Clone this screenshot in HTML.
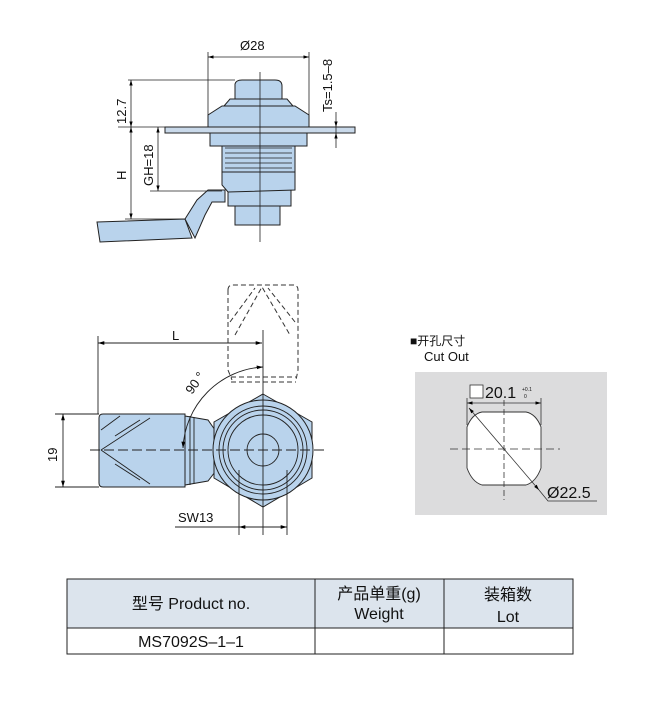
<!DOCTYPE html>
<html><head><meta charset="utf-8"><style>
body{margin:0;background:#fff;width:650px;height:709px;overflow:hidden;font-family:"Liberation Sans","Noto Sans CJK SC",sans-serif}
</style></head><body>
<svg width="650" height="709" viewBox="0 0 650 709" xmlns="http://www.w3.org/2000/svg" font-family="Liberation Sans, Noto Sans CJK SC, sans-serif">
<defs>
<marker id="a" viewBox="0 0 10 10" refX="10" refY="5" markerWidth="7" markerHeight="7" orient="auto-start-reverse"><path d="M0,2L10,5L0,8z" fill="#000"/></marker>
</defs>
<g stroke="#222" stroke-width="1" fill="#b9d3ec">
<!-- top view -->
<path d="M97,222 L185,219 L192,238 L100,242 Z"/>
<path d="M185,219 L197,200 L208,190 L225,190 L225,202 L212,202 L205,215 L195,238 Z"/>
<rect x="235" y="205" width="45" height="20"/>
<rect x="228" y="190" width="63" height="16"/>
<path d="M222,172 L295,172 L295,190 L228,192 L222,185 Z"/>
<rect x="222" y="145" width="73" height="27"/>
<path d="M225,148H292M225,153H292M225,158H292M225,163H292M225,168H292" fill="none" stroke-width="0.8"/>
<rect x="210" y="133" width="97" height="13"/>
<rect x="165" y="127" width="190" height="6" fill="#c9d9ea"/>
<path d="M208,127 L208,115 L222,106 L295,106 L309,115 L309,127 Z"/>
<path d="M224,106 L230,99 L287,99 L293,106 Z"/>
<path d="M235,99 L235,84 Q236,80 242,80 L275,80 Q282,80 282,86 L282,99 Z"/>
</g>
<g stroke="#222" stroke-width="0.8" fill="none">
<line x1="260" y1="72" x2="260" y2="242"/>
<line x1="208" y1="52" x2="208" y2="127"/><line x1="309" y1="52" x2="309" y2="127"/>
<line x1="208" y1="57" x2="309" y2="57" marker-start="url(#a)" marker-end="url(#a)"/>
<line x1="128" y1="80" x2="235" y2="80"/><line x1="118" y1="127" x2="165" y2="127"/>
<line x1="150" y1="191" x2="222" y2="191"/><line x1="125" y1="219" x2="185" y2="219"/>
<line x1="131" y1="80" x2="131" y2="127" marker-start="url(#a)" marker-end="url(#a)"/>
<line x1="131" y1="127" x2="131" y2="219" marker-start="url(#a)" marker-end="url(#a)"/>
<line x1="158" y1="127" x2="158" y2="191" marker-start="url(#a)" marker-end="url(#a)"/>
<line x1="336" y1="112" x2="336" y2="127" marker-end="url(#a)"/>
<line x1="336" y1="148" x2="336" y2="133" marker-end="url(#a)"/>
<line x1="336" y1="127" x2="336" y2="133"/>
</g>
<g font-size="13" fill="#111">
<text x="240" y="50">Ø28</text>
<text transform="translate(126,124) rotate(-90)">12.7</text>
<text transform="translate(126,180) rotate(-90)">H</text>
<text transform="translate(153,186) rotate(-90)">GH=18</text>
<text transform="translate(332,112) rotate(-90)">Ts=1.5–8</text>
</g>
<!-- bottom view -->
<g stroke="#333" stroke-width="1" fill="none" stroke-dasharray="5,3">
<path d="M228,290 Q228,285 233,285 L293,285 Q298,285 298,290 L298,370 L296,380 M228,290 L228,370 L232,380"/>
<path d="M235,335 L262,287 L290,335 M230,322 L255,288 M295,322 L268,288"/>
<line x1="231" y1="377" x2="296" y2="377"/><line x1="231" y1="382" x2="296" y2="382"/>
</g>
<g stroke="#222" stroke-width="1" fill="#b9d3ec">
<path d="M99,418 Q99,414 103,414 L185,414 L185,487 L103,487 Q99,487 99,483 Z"/>
<path d="M185,416 L208,420 L215,430 L215,472 L208,481 L185,485 Z"/>
<polygon points="263,394 312,422 312,478 263,507 214,478 214,422"/>
<circle cx="263" cy="450" r="50"/>
</g>
<g stroke="#222" stroke-width="0.9" fill="none">
<path d="M101,450 L150,418 M101,450 L150,484 M115,436 L140,420 M115,464 L140,480 M101,430 L120,416"/>
<line x1="190" y1="416" x2="190" y2="485"/><line x1="194" y1="417" x2="194" y2="484"/>
<circle cx="263" cy="450" r="44"/><circle cx="263" cy="450" r="40"/><circle cx="263" cy="450" r="35"/><circle cx="263" cy="450" r="16"/>
<line x1="263" y1="330" x2="263" y2="535"/>
<line x1="90" y1="450" x2="327" y2="450" stroke-dasharray="10,4"/>
<line x1="98" y1="336" x2="98" y2="414"/>
<line x1="98" y1="343" x2="262" y2="343" marker-start="url(#a)" marker-end="url(#a)"/>
<line x1="55" y1="414" x2="99" y2="414"/><line x1="55" y1="487" x2="99" y2="487"/>
<line x1="63" y1="414" x2="63" y2="487" marker-start="url(#a)" marker-end="url(#a)"/>
<path d="M263,367 A85,85 0 0 0 183,448" marker-start="url(#a)" marker-end="url(#a)"/>
<line x1="239" y1="470" x2="239" y2="535"/><line x1="287" y1="470" x2="287" y2="535"/>
<line x1="175" y1="527" x2="239" y2="527"/>
<line x1="239" y1="527" x2="287" y2="527" marker-start="url(#a)" marker-end="url(#a)"/>
</g>
<g font-size="13" fill="#111">
<text x="172" y="340">L</text>
<text transform="translate(192,395) rotate(-55)">90 °</text>
<text transform="translate(57,462) rotate(-90)">19</text>
<text x="178" y="522">SW13</text>
</g>
<!-- cutout -->
<text x="410" y="345" font-size="12" fill="#111">■开孔尺寸</text>
<text x="424" y="361" font-size="13" fill="#111">Cut Out</text>
<rect x="415" y="372" width="192" height="143" fill="#dcdcdd"/>
<path d="M482,412 L526,412 Q536,414 541,427 L541,468 Q536,482 526,485 L482,485 Q472,482 467,468 L467,427 Q472,414 482,412 Z" fill="#fff" stroke="#333" stroke-width="0.9"/>
<g stroke="#333" stroke-width="0.8" fill="none">
<line x1="504" y1="400" x2="504" y2="500" stroke-dasharray="6,3"/>
<line x1="450" y1="449" x2="560" y2="449" stroke-dasharray="8,4"/>
<line x1="467" y1="398" x2="467" y2="425"/><line x1="541" y1="398" x2="541" y2="425"/>
<line x1="467" y1="403" x2="541" y2="403" marker-start="url(#a)" marker-end="url(#a)"/>
<line x1="469" y1="408" x2="539" y2="490" marker-start="url(#a)" marker-end="url(#a)"/>
<polyline points="539,490 548,501 597,501"/>
</g>
<rect x="470" y="385" width="13" height="13" fill="#fff" stroke="#333" stroke-width="0.8"/>
<text x="485" y="398" font-size="16" fill="#111">20.1</text>
<text x="522" y="391" font-size="5" fill="#111">+0.1</text>
<text x="524" y="398" font-size="5" fill="#111">0</text>
<text x="547" y="498" font-size="16" fill="#111">Ø22.5</text>
<!-- table -->
<rect x="67" y="579" width="506" height="49" fill="#dce4ed"/>
<g stroke="#222" stroke-width="1" fill="none">
<rect x="67" y="579" width="506" height="75"/>
<line x1="67" y1="628" x2="573" y2="628"/>
<line x1="315" y1="579" x2="315" y2="654"/><line x1="444" y1="579" x2="444" y2="654"/>
</g>
<g font-size="16" fill="#111" text-anchor="middle">
<text x="191" y="609">型号 Product no.</text>
<text x="379" y="599">产品单重(g)</text>
<text x="379" y="619">Weight</text>
<text x="508" y="600">装箱数</text>
<text x="508" y="622">Lot</text>
<text x="191" y="647">MS7092S–1–1</text>
</g>
</svg>
</body></html>
